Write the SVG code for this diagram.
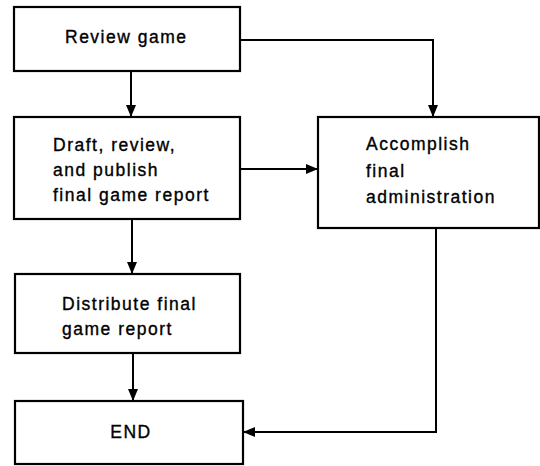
<svg xmlns="http://www.w3.org/2000/svg" width="540" height="466" viewBox="0 0 540 466">
<style>
.box{fill:#fff;stroke:#000;stroke-width:2.2}
.t{font-family:"Liberation Sans",Arial,sans-serif;font-size:17.5px;letter-spacing:1.5px;fill:#000;stroke:#000;stroke-width:0.35}
.c{fill:none;stroke:#000;stroke-width:2}
</style>
<defs>
<marker id="ah" viewBox="0 0 12 10" refX="12" refY="5" markerWidth="12" markerHeight="10" markerUnits="userSpaceOnUse" orient="auto">
<path d="M0,0 L12,5 L0,10 Z" fill="#000"/>
</marker>
</defs>
<rect width="540" height="466" fill="#fff"/>
<g id="connectors">
<path class="c" d="M131,71 V117" marker-end="url(#ah)"/>
<path class="c" d="M240,40 H433 V117" marker-end="url(#ah)"/>
<path class="c" d="M240,169 H318" marker-end="url(#ah)"/>
<path class="c" d="M132,219 V274" marker-end="url(#ah)"/>
<path class="c" d="M133,353 V401" marker-end="url(#ah)"/>
<path class="c" d="M436,228 V432 H243" marker-end="url(#ah)"/>
</g>
<g id="review">
<rect class="box" x="14" y="7" width="226" height="64"/>
<text class="t" x="65" y="43">Review game</text>
</g>
<g id="draft">
<rect class="box" x="14" y="117" width="226" height="102"/>
<text class="t" x="53" y="151">Draft, review,</text>
<text class="t" x="53" y="176">and publish</text>
<text class="t" x="53" y="201">final game report</text>
</g>
<g id="accomplish">
<rect class="box" x="318" y="117" width="221" height="111"/>
<text class="t" x="366" y="150">Accomplish</text>
<text class="t" x="366" y="177">final</text>
<text class="t" x="366" y="203">administration</text>
</g>
<g id="distribute">
<rect class="box" x="15" y="274" width="225" height="79"/>
<text class="t" x="62" y="310">Distribute final</text>
<text class="t" x="62" y="335">game report</text>
</g>
<g id="end">
<rect class="box" x="15" y="401" width="228" height="63"/>
<text class="t" x="131" y="438" text-anchor="middle">END</text>
</g>
</svg>
